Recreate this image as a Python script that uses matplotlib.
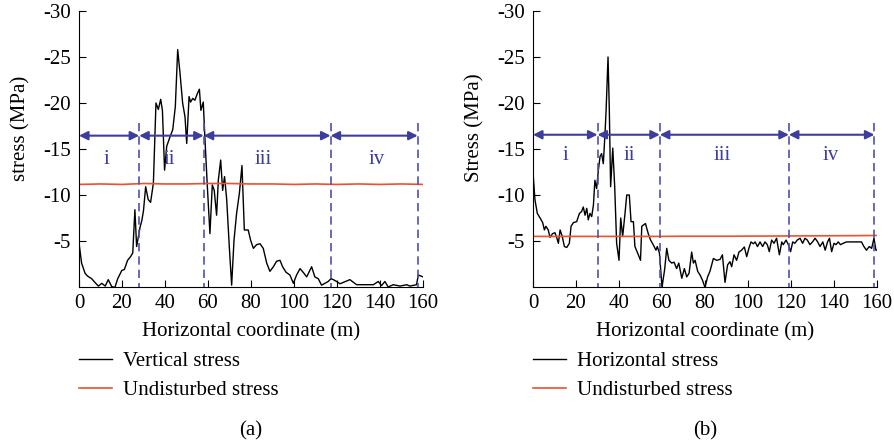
import matplotlib
matplotlib.use("Agg")
import matplotlib.pyplot as plt

plt.rcParams['font.family'] = ['Liberation Serif', 'DejaVu Serif']
plt.rcParams['axes.unicode_minus'] = False

# ---------------- data ----------------
vert_x = [0, 1.2, 2.8, 3.9, 5.9, 7.4, 9.0, 10.6, 12.2, 13.6, 15.2, 16.7, 18.0, 19.9, 21.1, 22.6,
          24.0, 25.0, 26.0, 26.8, 28.4, 29.2, 30.0, 31.0, 32.2, 33.3, 34.6, 35.8, 36.9, 38.0, 38.8,
          39.8, 40.8, 42.3, 43.6, 44.8, 45.9, 47.0, 48.2, 49.3, 50.1, 51.2, 51.9, 52.9, 53.9, 55.0,
          56.0, 56.7, 57.8, 58.6, 59.7, 60.9, 62.0, 62.9, 64.0, 64.8, 65.9, 66.8, 67.7, 68.7, 69.9,
          71.0, 72.1, 73.3, 74.6, 75.8, 76.9, 78.7, 79.8, 81.1, 82.6, 84.2, 85.7, 87.3, 88.8, 90.4,
          91.9, 93.5, 94.7, 96.3, 98.1, 99.7, 101.2, 102.8, 104.6, 105.9, 108.2, 109.7, 111.3, 112.8,
          114.4, 115.9, 117.2, 118.3, 119.8, 121.4, 126.0, 129.1, 133.8, 136.9, 139.2, 140.7, 142.3,
          143.8, 146.2, 149.3, 152.4, 153.9, 157.0, 157.8, 160.0]
vert_y = [-4.8, -2.6, -1.5, -1.2, -0.9, -0.5, -0.1, -0.4, -0.1, -0.8, -0.05, 0.05, -0.9, -1.8, -1.9, -2.9,
          -3.3, -3.7, -8.4, -4.4, -6.5, -7.2, -8.3, -10.9, -9.5, -9.2, -11.3, -20.0, -19.3, -20.4, -19.2,
          -12.7, -15.3, -16.3, -17.1, -19.6, -25.8, -23.2, -20.0, -18.5, -15.6, -20.7, -20.1, -20.5, -20.3, -21.0,
          -21.5, -19.2, -20.1, -16.0, -10.9, -5.8, -11.1, -10.5, -7.8, -11.6, -13.8, -10.5, -12.0, -9.5, -4.4,
          -0.2, -5.1, -8.0, -10.2, -13.2, -6.2, -6.2, -5.1, -4.2, -4.6, -4.7, -4.2, -2.6, -1.7, -2.2,
          -2.8, -2.9, -2.2, -1.6, -1.3, -0.4, -1.3, -2.0, -1.5, -1.1, -2.2, -1.1, -0.9, -0.2,
          -0.4, -0.6, -0.9, -0.8, -0.6, -0.35, -0.8, -0.25, -0.25, -0.25, -0.6, -0.15, -0.6,
          0.0, -0.25, -0.1, -0.25, -0.1, -0.25, -1.3, -1.1]

horiz_x = [0, 0.9, 2.0, 3.3, 4.5, 5.3, 6.0, 7.1, 7.9, 9.1, 10.2, 11.0, 11.8, 12.6, 13.6, 14.6, 15.7,
           16.9, 17.7, 18.8, 20.3, 21.6, 22.6, 23.4, 24.2, 25.0, 25.7, 26.5, 27.3, 28.1, 28.8, 29.6,
           30.4, 31.2, 31.9, 32.7, 33.5, 34.0, 34.9, 35.5, 36.1, 37.1, 38.0, 38.9, 40.0, 40.8, 41.7,
           42.8, 43.6, 44.8, 45.6, 46.7, 47.4, 49.0, 50.0, 50.6, 52.3, 53.6, 54.7, 55.9, 57.2, 57.8,
           58.8, 60.0, 61.2, 62.2, 63.2, 64.5, 65.6, 66.8, 67.8, 69.2, 70.4, 71.5, 72.6, 73.8, 74.6,
           75.4, 76.6, 77.7, 78.8, 80.0, 81.2, 82.3, 83.9, 85.4, 87.0, 88.1, 89.3, 90.5, 91.6, 92.4,
           93.5, 94.7, 95.8, 97.0, 98.3, 99.4, 100.4, 101.4, 102.5, 103.3, 104.4, 105.6, 106.8, 107.9,
           109.0, 109.9, 111.0, 112.1, 113.3, 114.6, 115.7, 116.4, 117.7, 118.8, 119.8, 120.8, 121.8,
           122.9, 124.2, 125.4, 126.5, 127.6, 128.8, 130.0, 131.2, 132.4, 133.5, 134.8, 135.9, 137.0,
           137.9, 138.9, 140.0, 140.9, 142.0, 143.0, 144.3, 145.8, 147.4, 150.5, 152.8, 153.9, 155.1,
           156.4, 157.5, 158.6, 159.5, 160.0]
horiz_y = [-12.5, -9.5, -8.0, -7.5, -7.0, -6.2, -6.6, -6.2, -5.4, -5.8, -5.9, -5.4, -4.75, -6.2, -5.5, -4.4, -4.3,
           -4.75, -6.6, -7.0, -7.1, -8.0, -8.2, -8.7, -7.8, -8.55, -7.3, -8.0, -7.65, -8.9, -11.6, -10.7,
           -12.7, -14.2, -14.5, -13.4, -16.7, -19.2, -25.0, -19.2, -10.9, -15.1, -10.9, -4.75, -2.9, -7.5, -5.5,
           -8.0, -10.0, -10.0, -7.1, -7.1, -4.4, -3.5, -2.9, -6.6, -6.9, -5.8, -5.1, -4.6, -4.0, -4.4,
           -3.7, 0.0, -1.85, -4.2, -2.9, -2.6, -2.7, -2.0, -2.6, -0.95, -2.0, -1.1, -1.5, -3.8, -2.6,
           -2.9, -1.7, -1.3, -0.75, 0.05, -1.1, -1.7, -3.1, -2.9, -3.0, -3.5, -0.5, -2.4, -2.75, -2.2,
           -3.5, -2.9, -3.8, -4.0, -4.35, -3.3, -4.2, -4.9, -4.7, -4.9, -4.4, -4.9, -4.4, -4.9,
           -4.6, -3.84, -5.1, -4.75, -5.3, -3.5, -4.9, -4.6, -5.1, -4.6, -3.84, -4.9, -4.75,
           -5.1, -5.3, -4.75, -5.3, -5.1, -4.6, -4.9, -5.3, -4.9, -4.4, -4.9, -4.0, -4.9,
           -5.3, -3.84, -4.75, -4.6, -4.9, -4.6, -4.75, -4.9, -4.9, -4.9, -4.9, -4.4, -4.0,
           -4.4, -4.2, -5.3, -4.0, -4.0]

undist_x = [0, 10, 20, 30, 40, 50, 60, 70, 80, 90, 100, 110, 120, 130, 140, 150, 160]
undist_a = [-11.15, -11.2, -11.15, -11.25, -11.2, -11.2, -11.25, -11.25, -11.2, -11.2,
            -11.15, -11.2, -11.15, -11.2, -11.15, -11.2, -11.15]
undist_b = [-5.5, -5.5, -5.5, -5.5, -5.5, -5.5, -5.5, -5.52, -5.52, -5.52,
            -5.53, -5.54, -5.55, -5.56, -5.57, -5.58, -5.6]

bounds_a = [0, 28, 58, 117, 157.5]
bounds_b = [0, 30, 59, 119, 158.8]
zone_labels = ['i', 'ii', 'iii', 'iv']
label_x_a = [12.8, 42, 85.6, 138.5]
label_x_b = [15.2, 44.8, 87.8, 138.5]

x_ticks = [0, 20, 40, 60, 80, 100, 120, 140, 160]
y_ticks = [-30, -25, -20, -15, -10, -5]
y_ticklabels = ['-30', '-25', '-20', '-15', '-10', '-5']

# ---------------- style ----------------
BLUE = '#3d3d9e'
DASH = '#5050b0'
RED = '#f0502d'
FS = 15

fig = plt.figure(figsize=(8.94, 4.43), dpi=100)
axA = fig.add_axes([79/894, 1-287/443, 344/894, 276/443])
axB = fig.add_axes([533/894, 1-287/443, 344/894, 276/443])


def setup(ax, ylabel, x, y, undist, bounds, lab_x, lab_y, arrow_y, curve_name, tag):
    ax.plot(x, y, color='black', lw=1.0, label=curve_name)
    ax.plot(undist_x, undist, color=RED, lw=1.2, label='Undisturbed stress')
    for b in bounds[1:]:
        ax.plot([b, b], [-17.8, 0], color=DASH, lw=1.2, ls=(0, (5, 3)))
    for i in range(4):
        ax.annotate('', xy=(bounds[i + 1], arrow_y), xytext=(bounds[i], arrow_y),
                    arrowprops=dict(arrowstyle='<|-|>', color=BLUE, lw=1.5,
                                    mutation_scale=13, shrinkA=0, shrinkB=0))
        ax.text(lab_x[i], lab_y, zone_labels[i], color=BLUE, fontsize=FS,
                ha='center', va='center')
    ax.set_xlim(0, 160)
    ax.set_ylim(0, -30)
    ax.set_xticks(x_ticks)
    ax.set_yticks(y_ticks)
    ax.set_yticklabels(y_ticklabels)
    ax.tick_params(direction='in', length=5, width=0.8, labelsize=FS)
    ax.tick_params(axis='y', pad=6)
    ax.tick_params(axis='x', pad=5)
    for s in ['top', 'right']:
        ax.spines[s].set_visible(False)
    for s in ['left', 'bottom']:
        ax.spines[s].set_linewidth(0.8)
    ax.set_xlabel('Horizontal coordinate (m)', fontsize=FS, labelpad=7)
    ax.set_ylabel(ylabel, fontsize=FS)
    ax.yaxis.set_label_coords(-0.142, 0.576)
    ax.legend(loc='upper left', bbox_to_anchor=(0.0, -0.235), frameon=False,
              fontsize=FS, handlelength=1.6, handletextpad=0.5,
              borderpad=0, borderaxespad=0, labelspacing=0.45)
    ax.text(0.5, -0.52, tag, transform=ax.transAxes, ha='center', va='center', fontsize=FS)


setup(axA, 'stress (MPa)', vert_x, vert_y, undist_a, bounds_a, label_x_a, -13.9, -16.45,
      'Vertical stress', '(a)')
setup(axB, 'Stress (MPa)', horiz_x, horiz_y, undist_b, bounds_b, label_x_b, -14.3, -16.55,
      'Horizontal stress', '(b)')

fig.savefig('out.png', dpi=100)
